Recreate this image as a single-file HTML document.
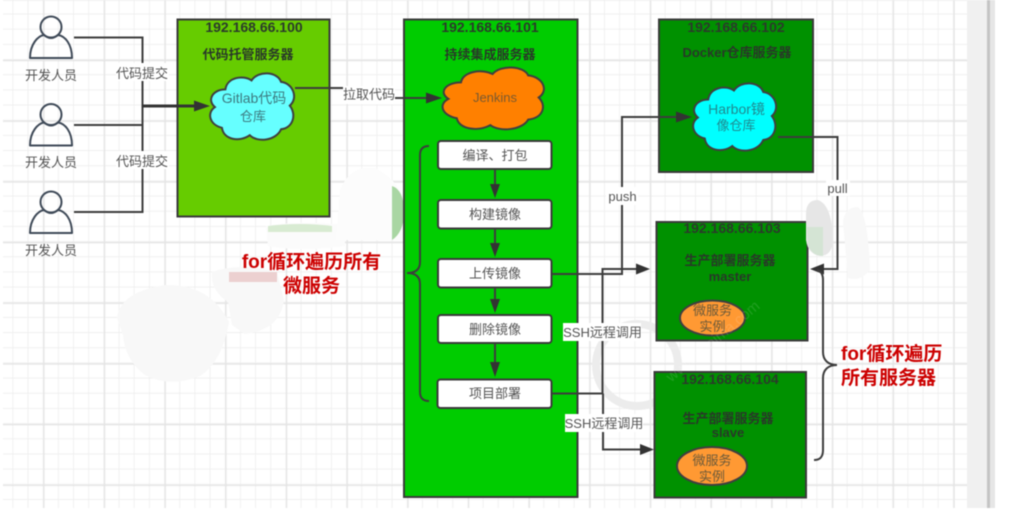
<!DOCTYPE html>
<html>
<head>
<meta charset="utf-8">
<style>
html,body{margin:0;padding:0;background:#fff;width:1014px;height:512px;overflow:hidden}
svg{display:block;filter:blur(.45px)}
text{font-family:"Liberation Sans","Noto Sans CJK SC",sans-serif;text-anchor:middle}
.ip{font-size:14px;font-weight:bold;fill:#2b3a2b}
.tt{font-size:13px;font-weight:bold;fill:#283828}
.lb{font-size:13px;fill:#555}
.in{font-size:13px;fill:#555}
.big{font-size:14px}
.red{font-size:19px;font-weight:bold;fill:#cc0000}
.box{stroke:#3a3a3a;stroke-width:2}
.ln{fill:none;stroke:#3d3d3d;stroke-width:2}
.ar{fill:#333}
.proc{fill:#fff;stroke:#3a3a3a;stroke-width:2}
.cl{stroke:#3f3f3f;stroke-width:2;vector-effect:non-scaling-stroke}
.p{fill:none;stroke:#3f4a58;stroke-width:2}
</style>
</head>
<body>
<svg width="1014" height="512" viewBox="0 0 1014 512" xmlns="http://www.w3.org/2000/svg">
<defs>
<pattern id="minor" patternUnits="userSpaceOnUse" x="-1.9" y="-0.7" width="15.17" height="15.17">
<path d="M15.17 0V15.17M0 15.17H15.17" fill="none" stroke="#eeeeee" stroke-width="1.6"/>
</pattern>
<pattern id="major" patternUnits="userSpaceOnUse" x="-17.38" y="-0.7" width="60.68" height="60.68">
<path d="M0 0V60.68M0 0H60.68" fill="none" stroke="#e4e4e4" stroke-width="2.4"/>
</pattern>
</defs>
<rect width="1014" height="512" fill="#fff"/>
<rect x="3" y="0" width="964" height="508" fill="url(#minor)"/>
<rect x="3" y="0" width="964" height="508" fill="url(#major)"/>
<rect x="967" y="0" width="20" height="508" fill="#f0f0f0"/>
<rect x="987" y="0" width="3" height="508" fill="#c4c4c4"/>
<rect x="990" y="0" width="5" height="508" fill="#e6e6e6"/>

<!-- watermark circle -->
<circle cx="637" cy="365" r="41" fill="none" stroke="#ececec" stroke-width="8"/>

<!-- left redaction patches -->
<path d="M117 318Q120 292 165 285Q210 284 229 322Q222 362 200 376Q170 388 145 375Q125 360 123 335Z" fill="#f8f8f8"/>
<path d="M212 272Q240 262 277 272L284 300Q280 330 245 334L232 325L228 302Q210 290 212 272Z" fill="#f8f8f8"/>
<rect x="229" y="272" width="48" height="10" fill="#ecd0d0"/>
<path d="M266 226Q300 220 345 225L345 246Q300 252 268 246Z" fill="#fbfbfb"/>
<path d="M268 226Q300 222 332 226L332 232L268 232Z" fill="#d8ebd2"/>
<path d="M336 240L340 190Q350 165 375 168Q398 180 404 200V240Z" fill="#fcfcfc"/>
<path d="M392 186Q404 190 404 212Q404 232 392 240Z" fill="#a9d6a3"/>

<!-- persons -->
<g class="p">
<circle cx="51" cy="27" r="10.5"/>
<path d="M30 58C30 44 38 36 44 35Q51 41 58 35C65 36 72 44 72 58Z" stroke-linejoin="round"/>
<circle cx="51" cy="114.5" r="10.5"/>
<path d="M30 145.500C30 131.500 38 123.500 44 122.500Q51 128.500 58 122.500C65 123.500 72 131.500 72 145.500Z" stroke-linejoin="round"/>
<circle cx="51" cy="202" r="10.5"/>
<path d="M30 233C30 219 38 211 44 210Q51 216 58 210C65 211 72 219 72 233Z" stroke-linejoin="round"/>
</g>
<text class="lb" x="51" y="80">开发人员</text>
<text class="lb" x="51" y="167">开发人员</text>
<text class="lb" x="51" y="255">开发人员</text>

<!-- boxes -->
<rect class="box" x="177.500" y="19.500" width="152" height="197" fill="#66cc00"/>
<rect class="box" x="404" y="19.500" width="173.500" height="477.500" fill="#00cc00"/>
<rect class="box" x="659" y="19.500" width="154" height="152.500" fill="#009100"/>
<rect class="box" x="656.500" y="222" width="151" height="118.500" fill="#009100"/>
<rect class="box" x="654.500" y="372" width="151.500" height="125.500" fill="#009100"/>

<!-- connectors left -->
<path class="ln" d="M74 37.500H142.500V212H74M74 125H142.500"/>
<path d="M142 106H196" fill="none" stroke="#333" stroke-width="3"/>
<path class="ar" d="M194 100.500L210 106L194 111.500Z"/>
<rect x="116" y="63" width="53" height="18" fill="#fff"/>
<text class="lb" x="142" y="78">代码提交</text>
<rect x="116" y="151" width="53" height="18" fill="#fff"/>
<text class="lb" x="142" y="166">代码提交</text>

<!-- clouds -->
<g transform="translate(208,68.600) scale(.87,.74)"><path class="cl" fill="#66ffff" d="M20 28C22 12 40 8 50 16C58 2 80 4 84 18C98 20 104 40 94 50C102 62 98 80 84 82C78 98 56 100 48 90C36 100 18 96 16 80C2 76 -2 60 8 52C-2 42 6 28 20 28Z"/></g>
<text class="in big" x="254" y="103" style="fill:#3d7a80">Gitlab代码</text>
<text class="in" x="253" y="121" style="fill:#3d7a80">仓库</text>

<path class="ln" d="M295 88H368V98H428"/>
<path class="ar" d="M426 92.500L442 98L426 103.500Z"/>
<rect x="343" y="86" width="52" height="18" fill="#fff"/>
<text class="lb" x="369" y="99">拉取代码</text>

<g transform="translate(440,63) scale(1.05,.69)"><path class="cl" fill="#ff8000" d="M20 28C22 12 40 8 50 16C58 2 80 4 84 18C98 20 104 40 94 50C102 62 98 80 84 82C78 98 56 100 48 90C36 100 18 96 16 80C2 76 -2 60 8 52C-2 42 6 28 20 28Z"/></g>
<text class="in" x="495" y="102" style="fill:#7a5a30">Jenkins</text>

<g transform="translate(691,78.500) scale(.86,.75)"><path class="cl" fill="#00ffff" d="M20 28C22 12 40 8 50 16C58 2 80 4 84 18C98 20 104 40 94 50C102 62 98 80 84 82C78 98 56 100 48 90C36 100 18 96 16 80C2 76 -2 60 8 52C-2 42 6 28 20 28Z"/></g>
<text class="in big" x="736.500" y="114" style="fill:#1f8a90">Harbor镜</text>
<text class="in" x="736" y="130" style="fill:#1f8a90">像仓库</text>

<!-- box labels -->
<text class="ip" x="254" y="32">192.168.66.100</text>
<text class="tt" x="248" y="59">代码托管服务器</text>
<text class="ip" x="490" y="32">192.168.66.101</text>
<text class="tt" x="490" y="59">持续集成服务器</text>
<text class="ip" x="736" y="32">192.168.66.102</text>
<text class="tt" x="737" y="57">Docker仓库服务器</text>
<text class="ip" x="732" y="233">192.168.66.103</text>
<text class="tt" x="730" y="265">生产部署服务器</text>
<text class="tt" x="730" y="281">master</text>
<text class="ip" x="730" y="384">192.168.66.104</text>
<text class="tt" x="728" y="423">生产部署服务器</text>
<text class="tt" x="728" y="437">slave</text>

<!-- process -->
<rect class="proc" x="438" y="141" width="113.500" height="28" rx="3"/>
<rect class="proc" x="438" y="200" width="113.500" height="28.500" rx="3"/>
<rect class="proc" x="438" y="259" width="113.500" height="28.500" rx="3"/>
<rect class="proc" x="438" y="315" width="113.500" height="28" rx="3"/>
<rect class="proc" x="437.500" y="379.500" width="114" height="28.500" rx="3"/>
<text class="in" x="495" y="160">编译、打包</text>
<text class="in" x="495" y="219">构建镜像</text>
<text class="in" x="495" y="278">上传镜像</text>
<text class="in" x="495" y="334">删除镜像</text>
<text class="in" x="495" y="398">项目部署</text>
<path class="ln" d="M495 170V187M495 229V246M495 288V302M495 344V366"/>
<path class="ar" d="M490 184H500L495 198ZM490 243H500L495 257ZM490 299H500L495 313ZM490 362H500L495 377Z"/>

<!-- left brace -->
<path class="ln" d="M429 146C423 146 420 149 420 155V262C420 269 416 273 407 273C416 273 420 277 420 284V392C420 398 423 401 429 401"/>

<!-- push/ssh lines -->
<path class="ln" d="M552 274H622V117H678"/>
<path class="ar" d="M676 111.500L692 117L676 122.500Z"/>
<path class="ln" d="M552 393.500H602.500V269H638"/>
<path class="ar" d="M636 263.500L650 269L636 274.500Z"/>
<path class="ln" d="M603 393.500V449.500H642"/>
<path class="ar" d="M640 444L654 449.500L640 455Z"/>
<rect x="606" y="187" width="32" height="18" fill="#fff"/>
<text class="lb" x="622.500" y="201">push</text>
<rect x="563" y="323" width="78" height="18" fill="#fff"/>
<text class="lb" x="602.500" y="337">SSH远程调用</text>
<rect x="565" y="414" width="78" height="18" fill="#fff"/>
<text class="lb" x="604" y="428">SSH远程调用</text>

<!-- pull -->
<path class="ln" d="M778 137H837.500V269H822"/>
<path class="ar" d="M824 263.500L810 269L824 274.500Z"/>
<rect x="826" y="180" width="24" height="16" fill="#fff"/>
<text class="lb" x="837.500" y="193">pull</text>

<!-- right brace -->
<path class="ln" d="M817 270C821 271 823 274 823 280V352C823 360 828 365 837 365C828 365 823 370 823 378V450C823 457 820 460 814 460"/>

<!-- microservice ellipses -->
<ellipse cx="712.500" cy="318" rx="32.500" ry="17.500" fill="#ff9933" stroke="#3f3f3f" stroke-width="2"/>
<text class="in" x="712.500" y="315" style="fill:#6b5a3a">微服务</text>
<text class="in" x="712.500" y="331" style="fill:#6b5a3a">实例</text>
<ellipse cx="712" cy="466" rx="35" ry="19" fill="#ff9933" stroke="#3f3f3f" stroke-width="2"/>
<text class="in" x="712" y="465" style="fill:#6b5a3a">微服务</text>
<text class="in" x="712" y="481" style="fill:#6b5a3a">实例</text>

<!-- right redaction patches -->
<path d="M806 214Q806 200 818 200Q832 205 833 240Q832 256 820 256Q808 254 806 240Z" fill="#e6e6e6"/>
<path d="M807 227H823V256Q812 256 808 245Z" fill="#d4e4d4"/>
<path d="M843 222Q845 207 858 207Q868 215 870 270Q860 282 848 278Z" fill="#f8f8f8"/>

<!-- watermark -->
<text x="0" y="0" transform="translate(716,345) rotate(-40)" style="font-size:15px;fill:#fff;opacity:.12">www.itheima.com</text>

<!-- red notes -->
<text class="red" x="311.500" y="268">for循环遍历所有</text>
<text class="red" x="311.500" y="292">微服务</text>
<text class="red" x="841" y="360" style="text-anchor:start">for循环遍历</text>
<text class="red" x="841" y="384" style="text-anchor:start">所有服务器</text>
</svg>
</body>
</html>
